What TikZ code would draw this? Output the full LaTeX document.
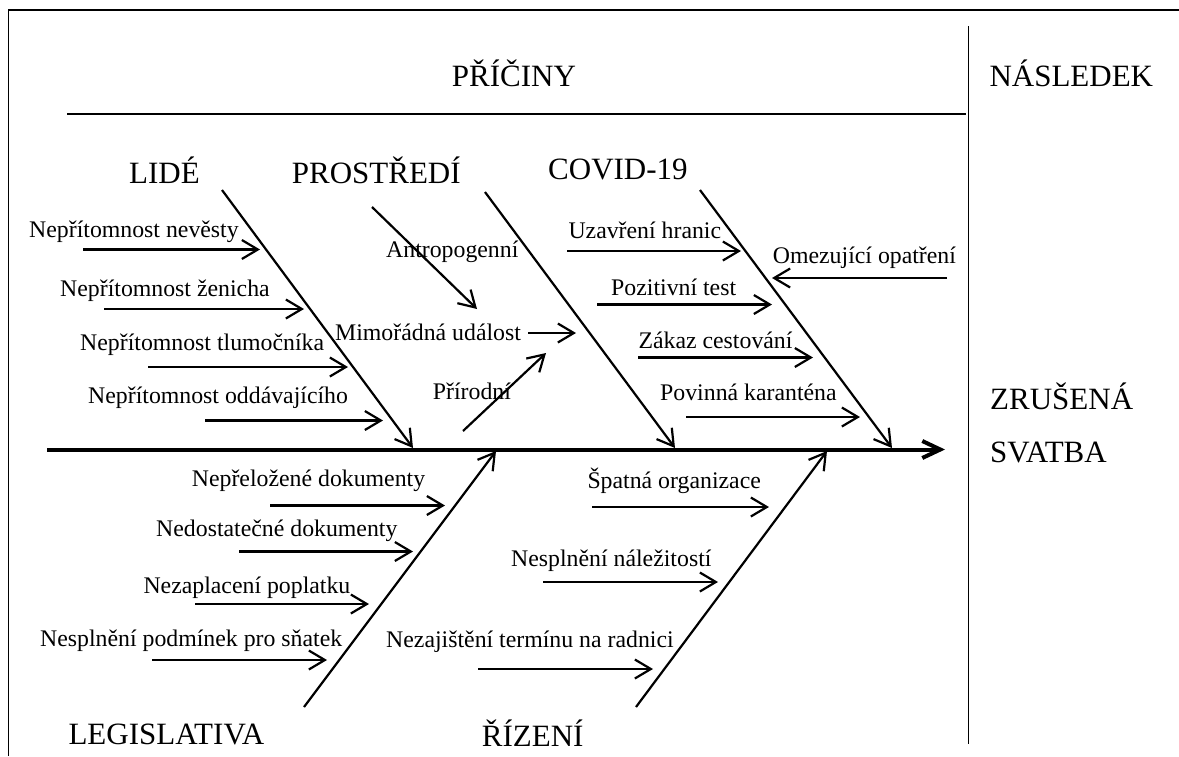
\documentclass[tikz,border=0pt]{standalone}
\usepackage{fontspec}
\setmainfont{Liberation Serif}
\usetikzlibrary{arrows.meta}
\tikzset{
  big/.style={font=\fontsize{31}{37}\selectfont, anchor=base west, inner sep=0pt},
  small/.style={font=\fontsize{23.8}{28}\selectfont, anchor=base west, inner sep=0pt},
  frameline/.style={line width=1.5pt},
  thinline/.style={line width=1.1pt},
  spine/.style={line width=4pt, -{Straight Barb[length=18pt,width=17pt]}},
  bone/.style={line width=2.2pt, -{Straight Barb[length=16pt,width=19pt]}},
  sub/.style={line width=2.2pt, -{Straight Barb[length=16pt,width=19pt]}},
}
\begin{document}
\begin{tikzpicture}[x=1pt,y=-1pt]
\useasboundingbox (0,0) rectangle (1179,756);
% frame
\coordinate (fbl) at (8.3,756);
\coordinate (ftl) at (8.3,10);
\coordinate (ftr) at (1179,10);
\draw[frameline] (fbl) -- (ftl) -- (ftr);
\coordinate (dt) at (968.7,26);
\coordinate (db) at (968.7,744);
\draw[frameline] (dt) -- (db);
\coordinate (cl) at (67,114);
\coordinate (cr) at (966,114);
\draw[thinline] (cl) -- (cr);

% headings
\node[big] (pric) at (451.7,86) {PŘÍČINY};
\node[big] (nasl) at (989.3,86.7) {NÁSLEDEK};
\node[big] (zr1) at (990,409.3) {ZRUŠENÁ};
\node[big] (zr2) at (990,462.7) {SVATBA};
\node[big] (lide) at (129,183.3) {LIDÉ};
\node[big] (prost) at (291.7,183) {PROSTŘEDÍ};
\node[big] (covid) at (548,179.3) {COVID-19};
\node[big] (legis) at (68.3,744) {LEGISLATIVA};
\node[big] (rizeni) at (481.7,746.7) {ŘÍZENÍ};

% spine
\coordinate (sp0) at (47,449.5);
\coordinate (sp1) at (945,449.5);
\draw[spine] (sp0) -- (sp1);

% bones
\coordinate (b1s) at (222,190); \coordinate (b1e) at (413,448);
\coordinate (b2s) at (485,192); \coordinate (b2e) at (675,448);
\coordinate (b3s) at (700,190); \coordinate (b3e) at (892,448);
\coordinate (b4s) at (304,707); \coordinate (b4e) at (496,451);
\coordinate (b5s) at (636,707); \coordinate (b5e) at (827,451);
\draw[bone] (b1s) -- (b1e);
\draw[bone] (b2s) -- (b2e);
\draw[bone] (b3s) -- (b3e);
\draw[bone] (b4s) -- (b4e);
\draw[bone] (b5s) -- (b5e);

% LIDE
\node[small] (l1) at (29,237.3) {Nepřítomnost nevěsty};
\node[small] (l2) at (60,296) {Nepřítomnost ženicha};
\node[small] (l3) at (80,350.5) {Nepřítomnost tlumočníka};
\node[small] (l4) at (88,403) {Nepřítomnost oddávajícího};
\coordinate (l1s) at (83,249.5);  \coordinate (l1e) at (260,249.5);
\coordinate (l2s) at (104,309);   \coordinate (l2e) at (304,309);
\coordinate (l3s) at (148,367);   \coordinate (l3e) at (348,367);
\coordinate (l4s) at (205,420.5); \coordinate (l4e) at (383,420.5);
\draw[sub] (l1s) -- (l1e);
\draw[sub] (l2s) -- (l2e);
\draw[sub] (l3s) -- (l3e);
\draw[sub] (l4s) -- (l4e);

% PROSTREDI
\node[small] (p1) at (386,257.3) {Antropogenní};
\node[small] (p2) at (335,340) {Mimořádná událost};
\node[small] (p3) at (432.7,399) {Přírodní};
\coordinate (p1s) at (372,207); \coordinate (p1e) at (477,309);
\coordinate (p2s) at (528,333); \coordinate (p2e) at (576,333);
\coordinate (p3s) at (463,431); \coordinate (p3e) at (546,353);
\draw[sub] (p1s) -- (p1e);
\draw[sub] (p2s) -- (p2e);
\draw[sub] (p3s) -- (p3e);

% COVID
\node[small] (c1) at (568.3,238.3) {Uzavření hranic};
\node[small] (c2) at (611,295.7) {Pozitivní test};
\node[small] (c3) at (638.3,348.3) {Zákaz cestování};
\node[small] (c4) at (660,400.7) {Povinná karanténa};
\node[small] (c5) at (772.7,263.3) {Omezující opatření};
\coordinate (c1s) at (567,251);   \coordinate (c1e) at (741,251);
\coordinate (c2s) at (597,304.5); \coordinate (c2e) at (772,304.5);
\coordinate (c3s) at (638,357.5); \coordinate (c3e) at (813,357.5);
\coordinate (c4s) at (686,417);   \coordinate (c4e) at (860,417);
\coordinate (c5s) at (947,278);   \coordinate (c5e) at (772,278);
\draw[sub] (c1s) -- (c1e);
\draw[sub] (c2s) -- (c2e);
\draw[sub] (c3s) -- (c3e);
\draw[sub] (c4s) -- (c4e);
\draw[sub] (c5s) -- (c5e);

% LEGISLATIVA
\node[small] (g1) at (191.7,486) {Nepřeložené dokumenty};
\node[small] (g2) at (156,536.7) {Nedostatečné dokumenty};
\node[small] (g3) at (143.3,593.3) {Nezaplacení poplatku};
\node[small] (g4) at (40,646.7) {Nesplnění podmínek pro sňatek};
\coordinate (g1s) at (270,505.5); \coordinate (g1e) at (445,505.5);
\coordinate (g2s) at (239,551.5); \coordinate (g2e) at (413,551.5);
\coordinate (g3s) at (195,604);   \coordinate (g3e) at (369,604);
\coordinate (g4s) at (152,660);   \coordinate (g4e) at (327,660);
\draw[sub] (g1s) -- (g1e);
\draw[sub] (g2s) -- (g2e);
\draw[sub] (g3s) -- (g3e);
\draw[sub] (g4s) -- (g4e);

% RIZENI
\node[small] (r1) at (587.3,488.3) {Špatná organizace};
\node[small] (r2) at (511,566.7) {Nesplnění náležitostí};
\node[small] (r3) at (386,647.3) {Nezajištění termínu na radnici};
\coordinate (r1s) at (592,507);   \coordinate (r1e) at (769,507);
\coordinate (r2s) at (543,582);   \coordinate (r2e) at (718,582);
\coordinate (r3s) at (478,669);   \coordinate (r3e) at (653,669);
\draw[sub] (r1s) -- (r1e);
\draw[sub] (r2s) -- (r2e);
\draw[sub] (r3s) -- (r3e);
\end{tikzpicture}
\end{document}
